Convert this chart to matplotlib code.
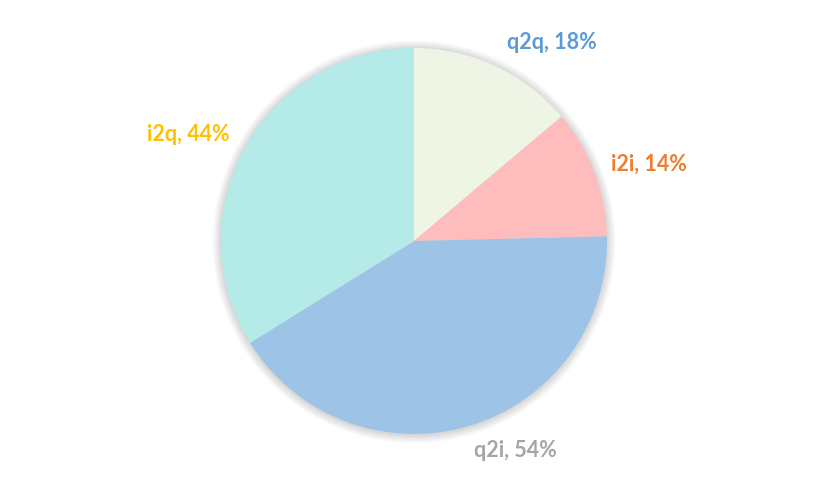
import matplotlib
matplotlib.use("Agg")
import matplotlib.pyplot as plt
from matplotlib.patches import Circle

categories = ["q2q", "i2i", "q2i", "i2q"]
values = [18, 14, 54, 44]

wedge_colors = ["#EEF5E4", "#FFBCBC", "#9DC3E6", "#B4EAE8"]
label_colors = ["#5B9BD5", "#ED7D31", "#A5A5A5", "#FFC000"]
# label centres in axes data units (pie radius = 1)
label_pos = [(0.714, 1.026), (1.216, 0.399), (0.523, -1.088), (-1.171, 0.554)]

W, H = 827, 487
cx, cy, R = 414, 246, 193

fig = plt.figure(figsize=(W / 100, H / 100), dpi=100)
ax = fig.add_axes([0, 0, 1, 1])
ax.set_aspect("equal")

# soft shadow
n = 20
for i in range(n):
    r = 1.0 + 0.045 * (n - i) / n
    ax.add_patch(Circle((0.0, -0.004), r, color="#000000", alpha=0.009, lw=0, zorder=0))

ax.pie(values, colors=wedge_colors, startangle=90, counterclock=False,
       radius=1.0, center=(0, 0), wedgeprops=dict(linewidth=0),
       frame=True)
ax.set_xlim(-cx / R, (W - cx) / R)
ax.set_ylim(-cy / R, (H - cy) / R)
ax.axis("off")

for cat, v, col, (x, y) in zip(categories, values, label_colors, label_pos):
    ax.text(x, y, f"{cat}, {v}%", color=col, fontsize=15.5, fontweight="bold",
            family=["Lato", "DejaVu Sans"], ha="center", va="center")

fig.savefig("out.png", dpi=100, facecolor="white")
